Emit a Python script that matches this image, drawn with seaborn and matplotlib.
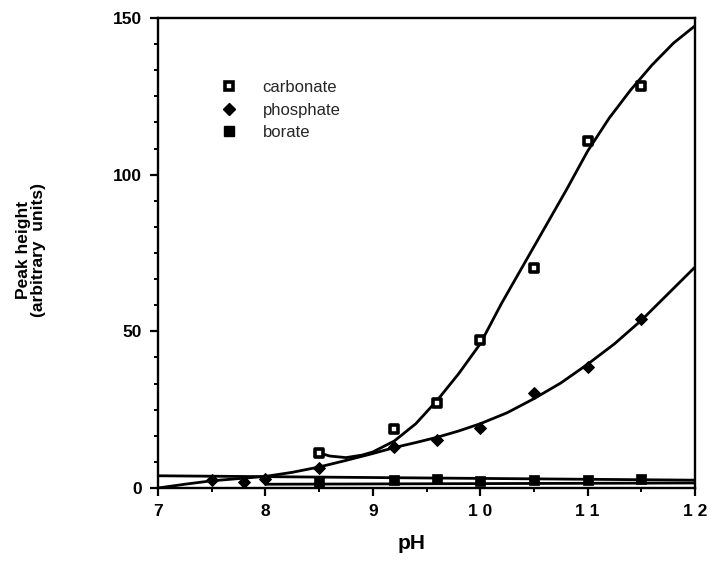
import numpy as np
import pandas as pd
import matplotlib
matplotlib.use("Agg")
import matplotlib.pyplot as plt
from matplotlib.ticker import MultipleLocator, FixedLocator
from matplotlib.lines import Line2D
import seaborn as sns

# Measured peak heights vs. pH for each buffer
carbonate_ph = [8.5, 9.2, 9.6, 10.0, 10.5, 11.0, 11.5]
carbonate_peak = [11.1, 18.8, 27.1, 47.2, 70.2, 110.7, 128.3]

phosphate_ph = [7.5, 7.8, 8.0, 8.5, 9.2, 9.6, 10.0, 10.5, 11.0, 11.5]
phosphate_peak = [2.4, 2.0, 2.8, 6.3, 13.2, 15.4, 19.3, 30.3, 38.5, 53.8]

borate_ph = [8.5, 9.2, 9.6, 10.0, 10.5, 11.0, 11.5]
borate_peak = [2.0, 2.6, 2.9, 2.2, 2.5, 2.7, 2.9]

# Hand-drawn trend curves through the data
carbonate_fit_ph = [8.5, 8.6, 8.75, 8.9, 9.0, 9.2, 9.4, 9.6, 9.8, 10.0, 10.2, 10.4,
                    10.5, 10.6, 10.8, 11.0, 11.2, 11.4, 11.5, 11.6, 11.8, 12.0]
carbonate_fit = [11.2, 10.2, 9.7, 10.5, 11.5, 15.0, 20.5, 28.0, 36.5, 46.0, 59.0, 71.0,
                 77.0, 83.0, 95.0, 107.5, 118.0, 127.0, 131.0, 135.0, 142.0, 147.5]

phosphate_fit_ph = [7.0, 7.25, 7.5, 7.75, 8.0, 8.25, 8.5, 8.75, 9.0, 9.2, 9.4, 9.6,
                    9.8, 10.0, 10.25, 10.5, 10.75, 11.0, 11.25, 11.5, 11.75, 12.0]
phosphate_fit = [0.0, 1.2, 2.3, 3.0, 3.7, 5.0, 6.7, 8.8, 11.0, 12.9, 14.5, 16.2,
                 18.2, 20.5, 24.0, 28.5, 33.5, 39.5, 46.0, 53.5, 62.0, 70.5]

borate_fit_ph = [7.0, 12.0]
borate_fit = [3.9, 2.5]
borate_fit2_ph = [8.0, 12.0]
borate_fit2 = [1.2, 1.6]

x_ticks = [7, 8, 9, 10, 11, 12]
x_tick_labels = ["7", "8", "9", "1 0", "1 1", "1 2"]
y_ticks = [0, 50, 100, 150]

sns.set_theme(style="ticks")
plt.rcParams["font.family"] = ["Liberation Sans", "DejaVu Sans"]

fig = plt.figure(figsize=(7.1, 5.65), dpi=100)
ax = fig.add_axes([158 / 710, 1 - 488 / 565, (695 - 158) / 710, (488 - 18) / 565])

line_kw = dict(color="black", linewidth=2.0, ax=ax, legend=False, sort=False)
sns.lineplot(x=carbonate_fit_ph, y=carbonate_fit, **line_kw)
sns.lineplot(x=phosphate_fit_ph, y=phosphate_fit, **line_kw)
sns.lineplot(x=borate_fit_ph, y=borate_fit, **line_kw)
sns.lineplot(x=borate_fit2_ph, y=borate_fit2, **line_kw)

sns.scatterplot(x=carbonate_ph, y=carbonate_peak, marker="s", s=34, color="white",
                edgecolor="black", linewidth=2.6, ax=ax, zorder=5)
sns.scatterplot(x=phosphate_ph, y=phosphate_peak, marker="D", s=36, color="black",
                edgecolor="black", linewidth=0.8, ax=ax, zorder=5)
sns.scatterplot(x=borate_ph, y=borate_peak, marker="s", s=48, color="black",
                edgecolor="black", linewidth=0.5, ax=ax, zorder=5)

ax.set_xlim(7, 12)
ax.set_ylim(0, 150)
ax.xaxis.set_major_locator(FixedLocator(x_ticks))
ax.set_xticklabels(x_tick_labels)
ax.xaxis.set_minor_locator(MultipleLocator(0.5))
ax.yaxis.set_major_locator(FixedLocator(y_ticks))
ax.yaxis.set_minor_locator(MultipleLocator(50 / 6))

for side in ["left", "right", "top", "bottom"]:
    ax.spines[side].set_visible(True)
    ax.spines[side].set_linewidth(1.7)
    ax.spines[side].set_color("black")

ax.tick_params(which="major", direction="out", length=5.5, width=1.6, color="black",
               labelsize=12.5, pad=6)
ax.tick_params(which="minor", direction="out", length=3, width=1.4, color="black")
ax.tick_params(axis="x", which="both", top=False)
ax.tick_params(axis="y", which="both", right=False)
for lab in ax.get_xticklabels() + ax.get_yticklabels():
    lab.set_fontweight("bold")
    lab.set_color("black")

ax.set_xlabel("pH", fontsize=15, fontweight="bold", color="black")
ax.xaxis.set_label_coords((412 - 158) / 537, (488 - 534) / 470)
ax.set_ylabel("Peak height\n(arbitrary  units)", fontsize=12.5, fontweight="bold",
              color="black", linespacing=1.0)
ax.yaxis.set_label_coords((46 - 158) / 537, (488 - 250) / 470)

handles = [
    Line2D([], [], marker="s", linestyle="none", markersize=6, markerfacecolor="white",
           markeredgecolor="black", markeredgewidth=2.6),
    Line2D([], [], marker="D", linestyle="none", markersize=6, markerfacecolor="black",
           markeredgecolor="black"),
    Line2D([], [], marker="s", linestyle="none", markersize=7, markerfacecolor="black",
           markeredgecolor="black"),
]
ax.legend(handles, ["carbonate", "phosphate", "borate"], loc="upper left",
          bbox_to_anchor=((221 - 158) / 537, (488 - 80) / 470), frameon=False,
          handlelength=1.0, handletextpad=1.5, labelspacing=0.45, fontsize=12,
          borderaxespad=0, borderpad=0)

fig.savefig("out.png", dpi=100, facecolor="white")
